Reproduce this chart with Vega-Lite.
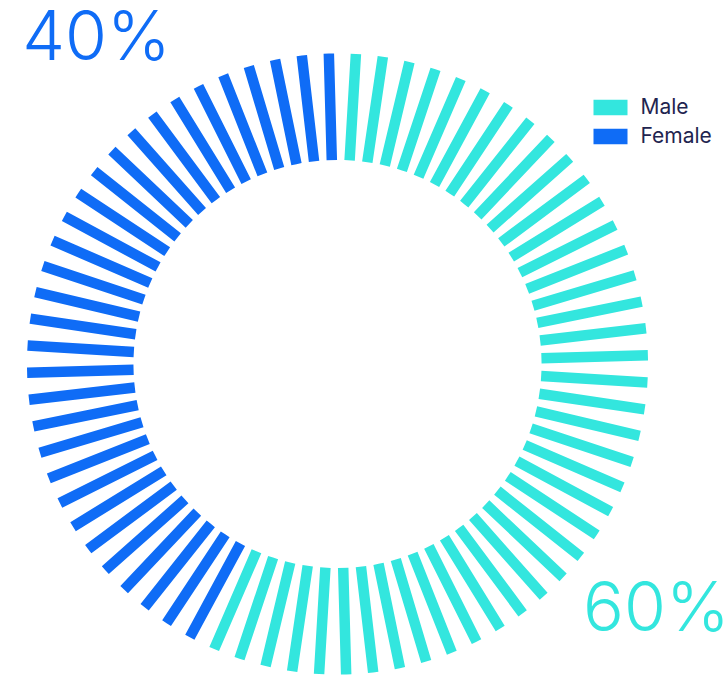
{
  "$schema": "https://vega.github.io/schema/vega-lite/v6.json",
  "width": 675,
  "height": 626,
  "autosize": {"type": "none"},
  "padding": {"top": 51, "left": 0, "right": 53, "bottom": 0},
  "background": "#ffffff",
  "config": {"view": {"stroke": null}},
  "layer": [
    {
      "data": {
        "values": [
          {"i": 0, "gender": "Male"}, {"i": 1, "gender": "Male"}, {"i": 2, "gender": "Male"}, {"i": 3, "gender": "Male"},
          {"i": 4, "gender": "Male"}, {"i": 5, "gender": "Male"}, {"i": 6, "gender": "Male"}, {"i": 7, "gender": "Male"},
          {"i": 8, "gender": "Male"}, {"i": 9, "gender": "Male"}, {"i": 10, "gender": "Male"}, {"i": 11, "gender": "Male"},
          {"i": 12, "gender": "Male"}, {"i": 13, "gender": "Male"}, {"i": 14, "gender": "Male"}, {"i": 15, "gender": "Male"},
          {"i": 16, "gender": "Male"}, {"i": 17, "gender": "Male"}, {"i": 18, "gender": "Male"}, {"i": 19, "gender": "Male"},
          {"i": 20, "gender": "Male"}, {"i": 21, "gender": "Male"}, {"i": 22, "gender": "Male"}, {"i": 23, "gender": "Male"},
          {"i": 24, "gender": "Male"}, {"i": 25, "gender": "Male"}, {"i": 26, "gender": "Male"}, {"i": 27, "gender": "Male"},
          {"i": 28, "gender": "Male"}, {"i": 29, "gender": "Male"}, {"i": 30, "gender": "Male"}, {"i": 31, "gender": "Male"},
          {"i": 32, "gender": "Male"}, {"i": 33, "gender": "Male"}, {"i": 34, "gender": "Male"}, {"i": 35, "gender": "Male"},
          {"i": 36, "gender": "Male"}, {"i": 37, "gender": "Male"}, {"i": 38, "gender": "Male"}, {"i": 39, "gender": "Male"},
          {"i": 40, "gender": "Male"},
          {"i": 41, "gender": "Female"}, {"i": 42, "gender": "Female"}, {"i": 43, "gender": "Female"}, {"i": 44, "gender": "Female"},
          {"i": 45, "gender": "Female"}, {"i": 46, "gender": "Female"}, {"i": 47, "gender": "Female"}, {"i": 48, "gender": "Female"},
          {"i": 49, "gender": "Female"}, {"i": 50, "gender": "Female"}, {"i": 51, "gender": "Female"}, {"i": 52, "gender": "Female"},
          {"i": 53, "gender": "Female"}, {"i": 54, "gender": "Female"}, {"i": 55, "gender": "Female"}, {"i": 56, "gender": "Female"},
          {"i": 57, "gender": "Female"}, {"i": 58, "gender": "Female"}, {"i": 59, "gender": "Female"}, {"i": 60, "gender": "Female"},
          {"i": 61, "gender": "Female"}, {"i": 62, "gender": "Female"}, {"i": 63, "gender": "Female"}, {"i": 64, "gender": "Female"},
          {"i": 65, "gender": "Female"}, {"i": 66, "gender": "Female"}, {"i": 67, "gender": "Female"}, {"i": 68, "gender": "Female"},
          {"i": 69, "gender": "Female"}, {"i": 70, "gender": "Female"}, {"i": 71, "gender": "Female"}
        ]
      },
      "mark": {
        "type": "arc",
        "radius": 310.5,
        "radius2": 204,
        "padAngle": 0.1,
        "strokeWidth": 10.5,
        "strokeJoin": "bevel"
      },
      "encoding": {
        "theta": {"aggregate": "count", "type": "quantitative", "scale": {"range": [0.0157, 6.2989]}},
        "detail": {"field": "i", "type": "ordinal"},
        "order": {"field": "i", "type": "quantitative"},
        "color": {
          "field": "gender",
          "type": "nominal",
          "scale": {"domain": ["Male", "Female"], "range": ["#33e6de", "#0f6cf6"]},
          "legend": {
            "title": null,
            "orient": "none",
            "legendX": 600,
            "legendY": 46,
            "padding": 0,
            "symbolType": "M-2,-0.9H2V0.9H-2Z",
            "symbolSize": 289,
            "symbolStrokeWidth": 0,
            "symbolOpacity": 1,
            "labelFont": "Inter",
            "labelFontSize": 21,
            "labelColor": "#1f2550",
            "labelOffset": 19.5,
            "rowPadding": 7
          }
        },
        "stroke": {
          "field": "gender",
          "type": "nominal",
          "scale": {"domain": ["Male", "Female"], "range": ["#33e6de", "#0f6cf6"]},
          "legend": null
        }
      }
    },
    {
      "data": {
        "values": [
          {"gender": "Male", "share": 60, "label": "60%"},
          {"gender": "Female", "share": 40, "label": "40%"}
        ]
      },
      "mark": {
        "type": "text",
        "radius": 403.5,
        "font": "Inter",
        "fontWeight": 300,
        "fontSize": 68,
        "align": "center",
        "baseline": "middle"
      },
      "encoding": {
        "theta": {"field": "share", "type": "quantitative", "stack": true, "scale": {"range": [0.1833, 7.0075]}},
        "order": {"field": "share", "type": "quantitative", "sort": "descending"},
        "text": {"field": "label", "type": "nominal"},
        "color": {"field": "gender", "type": "nominal", "legend": null}
      }
    }
  ],
  "resolve": {"scale": {"theta": "independent"}}
}
